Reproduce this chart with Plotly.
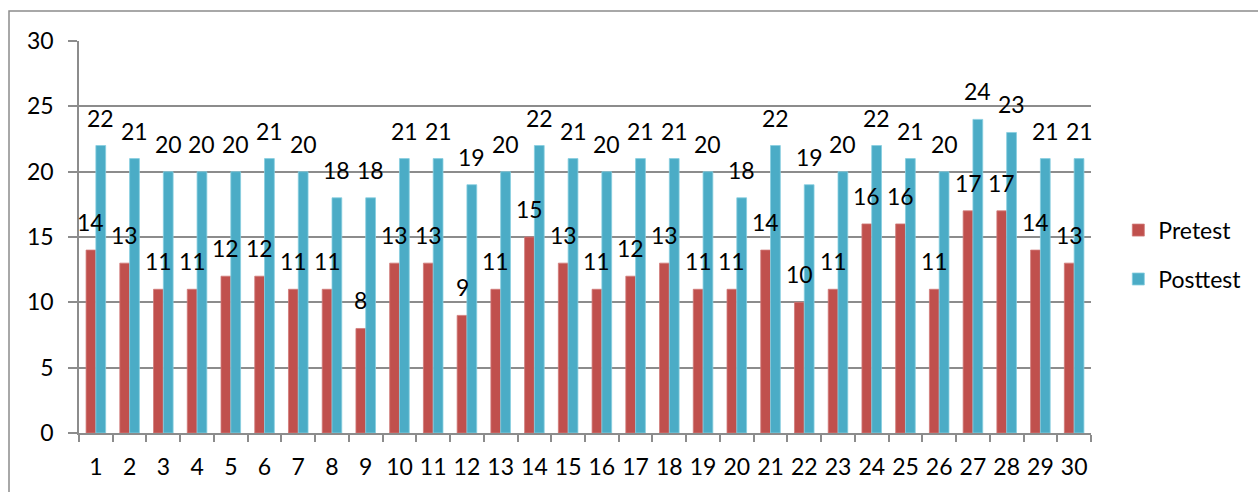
import plotly.graph_objects as go

categories = [str(i) for i in range(1, 31)]
pretest = [14, 13, 11, 11, 12, 12, 11, 11, 8, 13, 13, 9, 11, 15, 13,
           11, 12, 13, 11, 11, 14, 10, 11, 16, 16, 11, 17, 17, 14, 13]
posttest = [22, 21, 20, 20, 20, 21, 20, 18, 18, 21, 21, 19, 20, 22, 21,
            20, 21, 21, 20, 18, 22, 19, 20, 22, 21, 20, 24, 23, 21, 21]
series_names = ["Pretest", "Posttest"]
y_ticks = [0, 5, 10, 15, 20, 25, 30]

RED = "#C0504D"
BLUE = "#4BACC6"
GRID = "#8C8C8C"
FONT = "Lato"
FS = 23

fig = go.Figure()
fig.add_trace(go.Bar(x=categories, y=pretest, name=series_names[0],
                     marker=dict(color=RED, line=dict(color="#D07A78", width=0.8)),
                     legendgroup="a"))
fig.add_trace(go.Bar(x=categories, y=posttest, name=series_names[1],
                     marker=dict(color=BLUE, line=dict(color="#86CEE0", width=0.8)),
                     legendgroup="b"))

W, H = 1258, 492
L, R, T, B = 79, 167, 41, 59
plot_w = W - L - R
cat_w = plot_w / len(categories)
bargap = 0.42
bar_w = cat_w * (1 - bargap) / 2

annotations = []
for vals, shift in ((pretest, -bar_w / 2), (posttest, bar_w / 2)):
    for i, v in enumerate(vals):
        annotations.append(dict(x=i, y=v, xref="x", yref="y", text=str(v),
                                showarrow=False, xanchor="center", yanchor="bottom",
                                xshift=shift, yshift=12,
                                font=dict(family=FONT, size=FS, color="#000")))

fig.update_layout(
    width=W, height=H,
    margin=dict(l=L, r=R, t=T, b=B),
    paper_bgcolor="white", plot_bgcolor="white",
    barmode="group", bargap=bargap, bargroupgap=0,
    font=dict(family=FONT, size=FS, color="#000"),
    annotations=annotations,
    legend=dict(x=1.027, y=0.455, xanchor="left", yanchor="middle",
                font=dict(family=FONT, size=FS, color="#000"),
                traceorder="grouped", tracegroupgap=16,
                bgcolor="rgba(0,0,0,0)"),
    shapes=[dict(type="rect", xref="paper", yref="paper",
                 x0=(9 - L) / plot_w, x1=1.5,
                 y0=-0.5, y1=(H - B - 11) / (H - T - B),
                 line=dict(color=GRID, width=1.5), layer="below")],
)
fig.update_xaxes(
    type="category", range=[-0.5, 29.5],
    showline=True, linecolor=GRID, linewidth=1.5,
    ticks="outside", tickson="boundaries", ticklen=7, tickwidth=1.5, tickcolor=GRID,
    ticklabelstandoff=13, tickangle=0,
    tickfont=dict(family=FONT, size=FS, color="#000"),
    showgrid=False, fixedrange=True,
)
fig.update_yaxes(
    range=[0, 30], tickvals=y_ticks,
    showline=True, linecolor=GRID, linewidth=1.5,
    ticks="outside", ticklen=9, tickwidth=1.5, tickcolor=GRID,
    ticklabelstandoff=10,
    showgrid=True, gridcolor=GRID, gridwidth=1.5,
    zeroline=False,
    tickfont=dict(family=FONT, size=FS, color="#000"),
    fixedrange=True,
)

fig.write_html("out.html")
